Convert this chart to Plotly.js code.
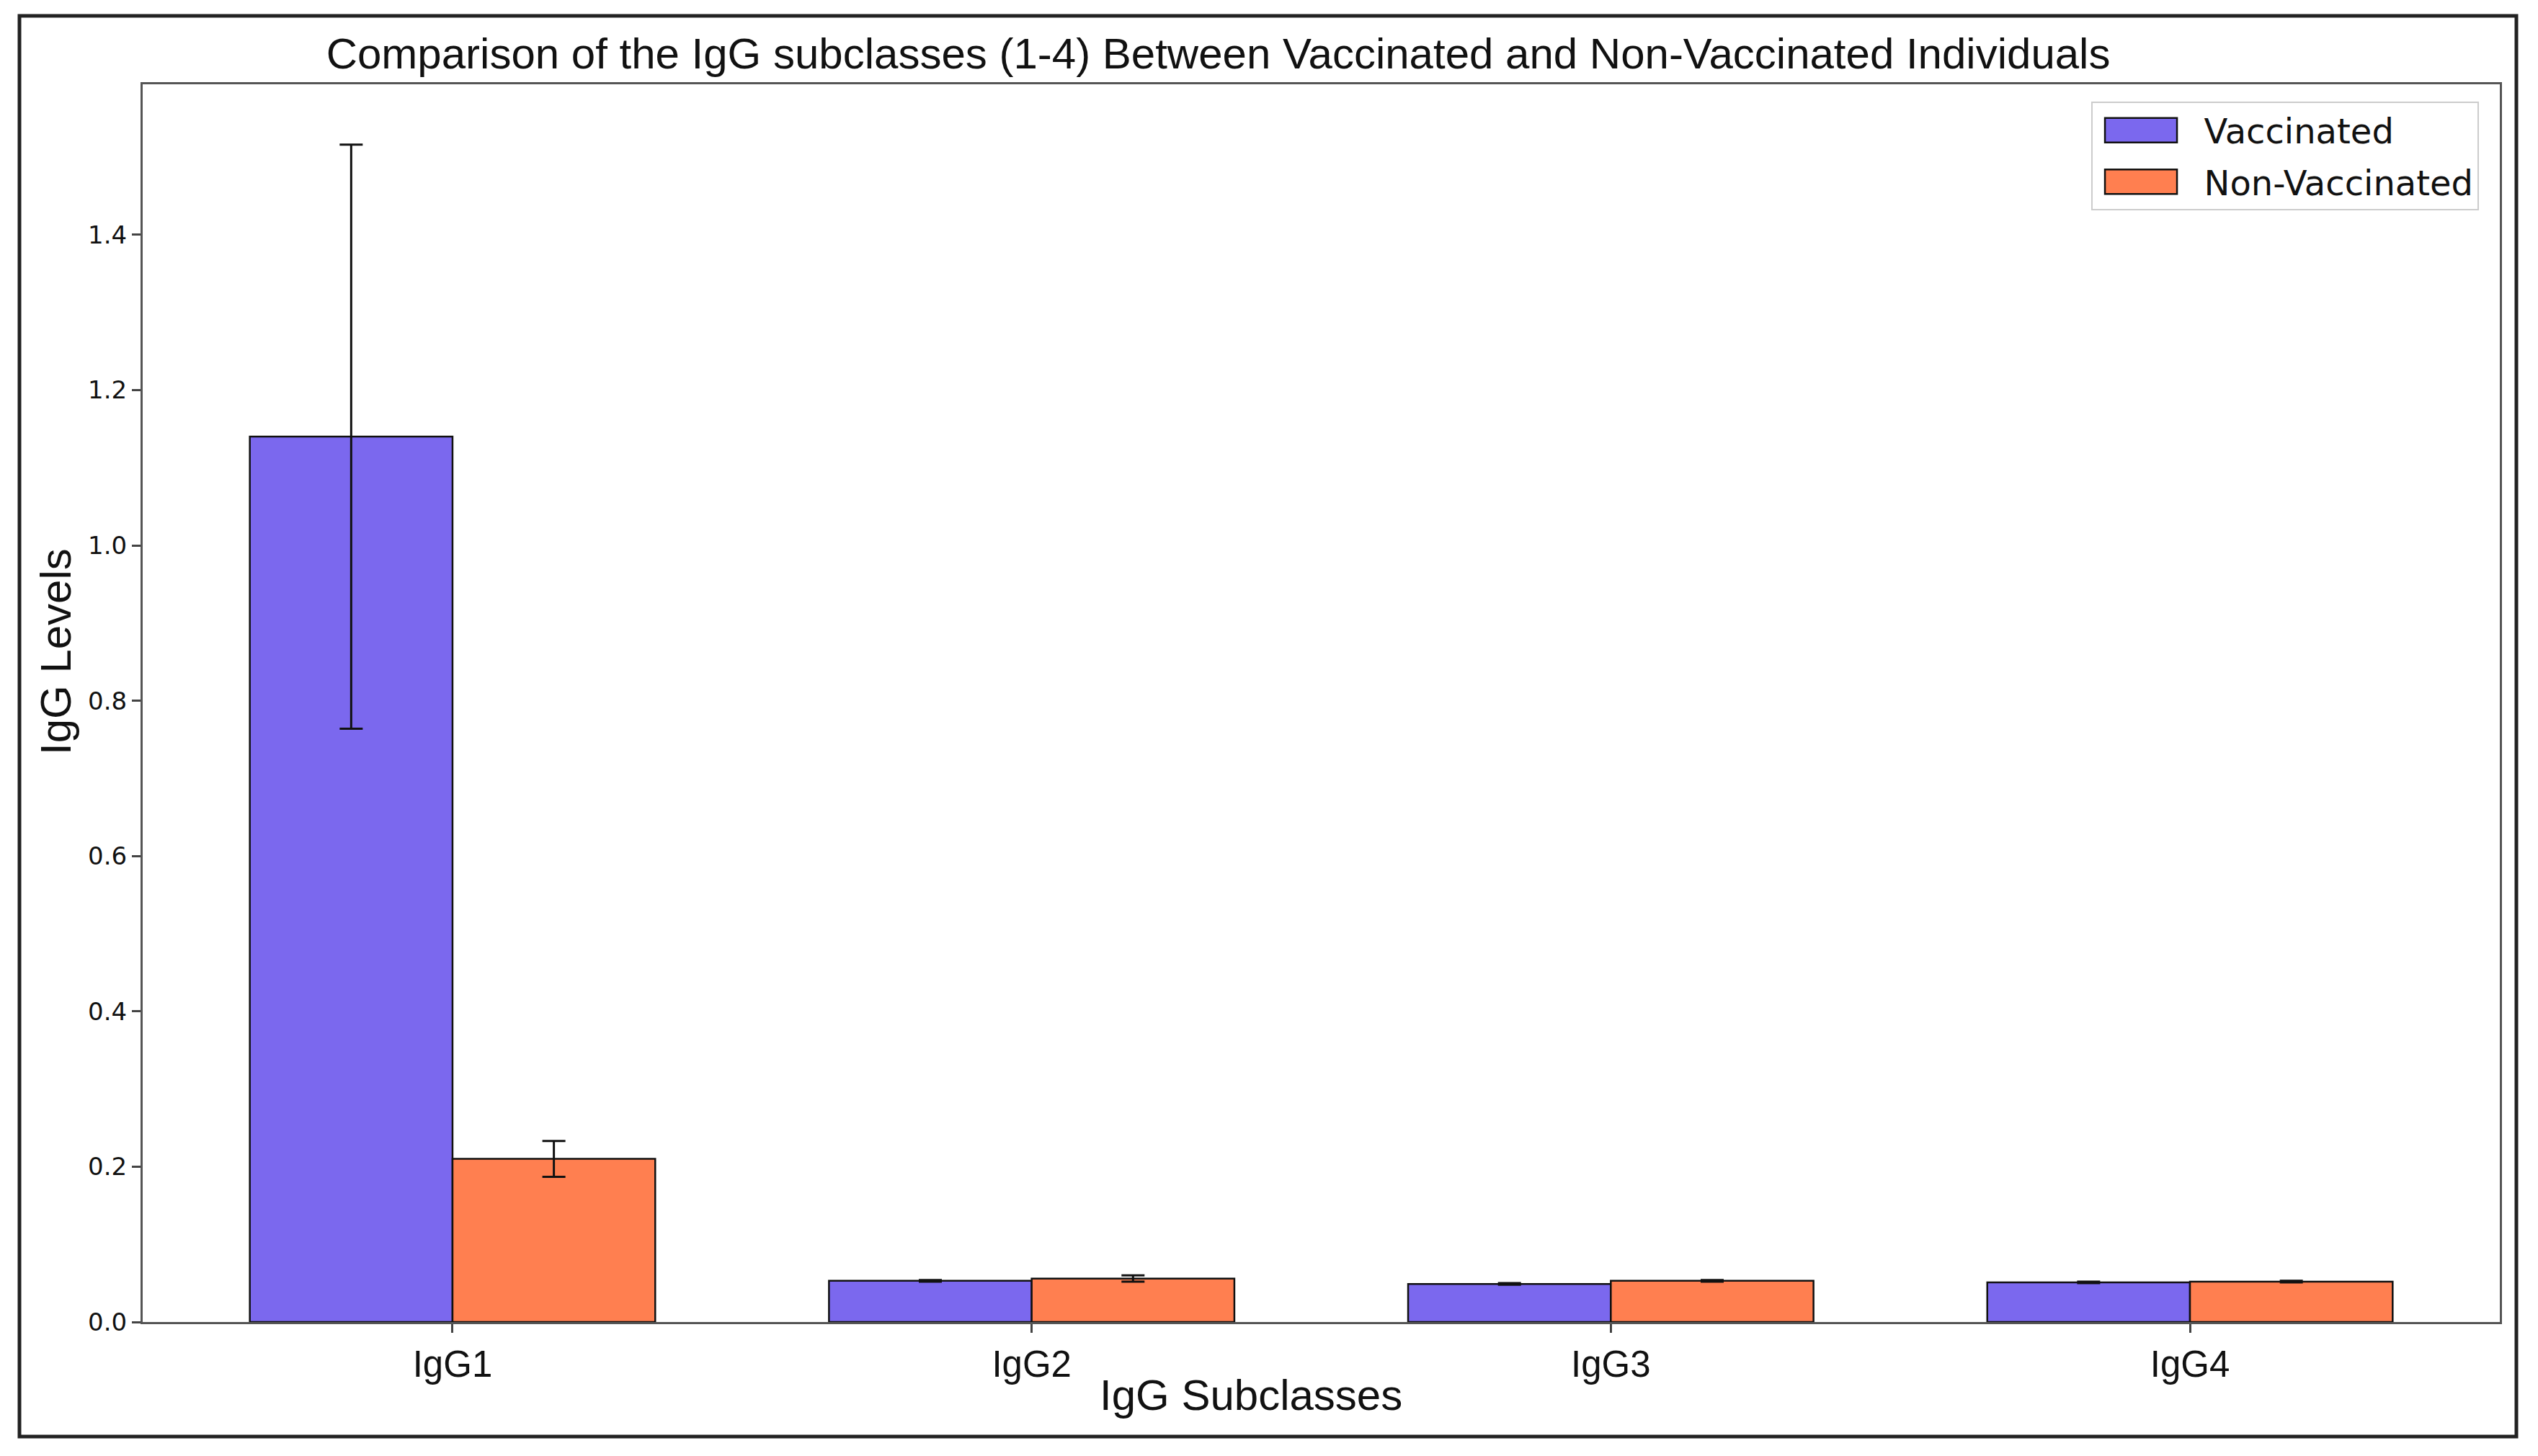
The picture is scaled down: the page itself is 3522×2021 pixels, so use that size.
<!DOCTYPE html>
<html>
<head>
<meta charset="utf-8">
<script src="https://cdn.plot.ly/plotly-3.0.1.min.js"></script>
<style>html,body{margin:0;padding:0;background:#fff;}#chart{width:3522px;height:2021px;}</style>
</head>
<body>
<div id="chart"></div>
<script>
const categories = ["IgG1", "IgG2", "IgG3", "IgG4"];
const vaccinated = [1.14, 0.053, 0.049, 0.051];
const vaccinatedErr = [0.376, 0.001, 0.001, 0.001];
const nonVaccinated = [0.21, 0.056, 0.053, 0.052];
const nonVaccinatedErr = [0.023, 0.004, 0.001, 0.001];
const seriesNames = ["Vaccinated", "Non-Vaccinated"];
const yTicks = [0, 0.2, 0.4, 0.6, 0.8, 1.0, 1.2, 1.4];
const titleText = "Comparison of the IgG subclasses (1-4) Between Vaccinated and Non-Vaccinated Individuals";
const xTitle = "IgG Subclasses";
const yTitle = "IgG Levels";

const errStyle = {type: "data", visible: true, color: "#111", thickness: 3, width: 16};

const traces = [
  {
    type: "bar", name: seriesNames[0], legendgroup: "a", x: categories, y: vaccinated,
    error_y: Object.assign({array: vaccinatedErr}, errStyle),
    marker: {color: "#7B68EE", line: {color: "#111", width: 2.5}}
  },
  {
    type: "bar", name: seriesNames[1], legendgroup: "b", x: categories, y: nonVaccinated,
    error_y: Object.assign({array: nonVaccinatedErr}, errStyle),
    marker: {color: "#FF7F50", line: {color: "#111", width: 2.5}}
  }
];

const layout = {
  width: 3522, height: 2021,
  paper_bgcolor: "#fff", plot_bgcolor: "#fff",
  margin: {l: 198, r: 53, t: 117, b: 186, pad: 0},
  barmode: "group", bargap: 0.3, bargroupgap: 0,
  showlegend: true,
  title: {
    text: titleText, x: 0.480, xref: "container", xanchor: "center",
    y: 1 - 74 / 2021, yref: "container", yanchor: "middle",
    font: {family: "Liberation Sans, Arial, sans-serif", size: 60, color: "#111"}
  },
  xaxis: {
    type: "category", range: [-0.535, 3.535],
    showline: true, mirror: true, linecolor: "#555", linewidth: 3,
    ticks: "outside", ticklen: 12, tickwidth: 3, tickcolor: "#444",
    tickfont: {family: "Liberation Sans, Arial, sans-serif", size: 51, color: "#111"},
    showgrid: false, zeroline: false, fixedrange: true
  },
  yaxis: {
    range: [0, 1.5937], tickvals: yTicks, tickformat: ".1f",
    showline: true, mirror: true, linecolor: "#555", linewidth: 3,
    ticks: "outside", ticklen: 12, tickwidth: 3, tickcolor: "#444",
    tickfont: {family: "DejaVu Sans, sans-serif", size: 34, color: "#111"},
    showgrid: false, zeroline: false, fixedrange: true
  },
  legend: {
    x: 0.991, y: 0.986, xanchor: "right", yanchor: "top",
    bgcolor: "#fff", bordercolor: "#cccccc", borderwidth: 2,
    font: {family: "DejaVu Sans, sans-serif", size: 48, color: "#111"},
    itemwidth: 145, traceorder: "grouped", tracegroupgap: 6
  },
  annotations: [
    {text: xTitle, xref: "paper", yref: "paper", x: (1736 - 198) / 3271, y: (1835 - 1936) / 1718,
     xanchor: "center", yanchor: "middle", showarrow: false,
     font: {family: "Liberation Sans, Arial, sans-serif", size: 60, color: "#111"}},
    {text: yTitle, xref: "paper", yref: "paper", x: (77 - 198) / 3271, y: (1835 - 905) / 1718,
     xanchor: "center", yanchor: "middle", showarrow: false, textangle: -90,
     font: {family: "Liberation Sans, Arial, sans-serif", size: 60, color: "#111"}}
  ],
  shapes: [
    {type: "rect", xref: "paper", yref: "paper",
     x0: (27 - 198) / 3271, x1: (3492 - 198) / 3271,
     y0: (1835 - 1994) / 1718, y1: (1835 - 22) / 1718,
     line: {color: "#222", width: 5}, fillcolor: "rgba(0,0,0,0)", layer: "below"}
  ]
};

function fixLegend() {
  document.querySelectorAll("#chart .legend .legendpoints path").forEach(p => {
    p.setAttribute("d", "M-60,-17H40V17H-60Z");
  });
}

Plotly.newPlot("chart", traces, layout, {staticPlot: true, displayModeBar: false}).then(gd => {
  fixLegend();
  gd.on("plotly_afterplot", fixLegend);
});
</script>
</body>
</html>
